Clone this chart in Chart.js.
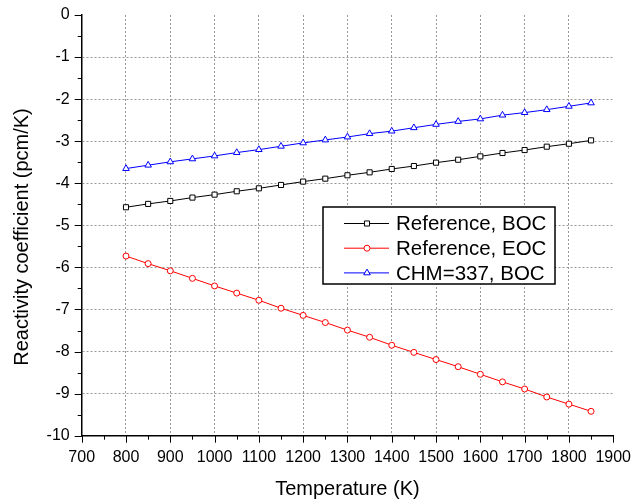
<!DOCTYPE html>
<html>
<head>
<meta charset="utf-8">
<script src="https://cdn.jsdelivr.net/npm/chart.js@4"></script>
<style>
  html, body { margin: 0; padding: 0; background: #fff; }
  #wrap { width: 631px; height: 502px; }
</style>
</head>
<body>
<div id="wrap"><canvas id="myChart" width="631" height="502"></canvas></div>
<script>
// datos
const temps = [800, 850, 900, 950, 1000, 1050, 1100, 1150, 1200, 1250, 1300,
               1350, 1400, 1450, 1500, 1550, 1600, 1650, 1700, 1750, 1800, 1850];
const refBOC = [-4.57, -4.49, -4.42, -4.34, -4.27, -4.19, -4.12, -4.04, -3.96, -3.89, -3.81,
                -3.74, -3.66, -3.59, -3.51, -3.44, -3.36, -3.28, -3.21, -3.13, -3.06, -2.98];
const refEOC = [-5.73, -5.91, -6.08, -6.26, -6.44, -6.61, -6.78, -6.97, -7.14, -7.31, -7.49,
                -7.66, -7.85, -8.02, -8.19, -8.36, -8.54, -8.72, -8.89, -9.08, -9.25, -9.42];
const chm337 = [-3.65, -3.57, -3.49, -3.42, -3.35, -3.27, -3.20, -3.12, -3.04, -2.97, -2.90,
                -2.82, -2.76, -2.68, -2.60, -2.53, -2.47, -2.38, -2.32, -2.25, -2.17, -2.09];
const seriesNames = ['Reference, BOC', 'Reference, EOC', 'CHM=337, BOC'];
const xTicks = [700, 1900, 100];   // min, max, paso
const yTicks = [-10, 0, 1];
const xTitle = 'Temperature (K)';
const yTitle = 'Reactivity coefficient (pcm/K)';

const FONT = '"Liberation Sans", Arial, sans-serif';

function pts(ys) {
    return temps.map((t, i) => ({ x: t, y: ys[i] }));
}

function marker(ctx, style, x, y, r, color) {
    ctx.save();
    ctx.fillStyle = '#fff';
    ctx.strokeStyle = color;
    ctx.lineWidth = 1;
    ctx.beginPath();
    if (style === 'rect') {
        const s = r * Math.SQRT1_2;
        ctx.rect(x - s, y - s, 2 * s, 2 * s);
    } else if (style === 'triangle') {
        for (let k = 0; k < 3; k++) {
            const a = k * 2 * Math.PI / 3;
            const px = x + Math.sin(a) * r, py = y - Math.cos(a) * r;
            k ? ctx.lineTo(px, py) : ctx.moveTo(px, py);
        }
        ctx.closePath();
    } else {
        ctx.arc(x, y, r, 0, 2 * Math.PI);
    }
    ctx.fill();
    ctx.stroke();
    ctx.restore();
}

// ticks menores/mayores, titulos y leyenda dibujados a mano
const extras = {
    id: 'extras',
    afterDraw(chart) {
        const ctx = chart.ctx;
        const xs = chart.scales.x, ys = chart.scales.y;
        const area = chart.chartArea;
        ctx.save();
        ctx.strokeStyle = '#000';
        ctx.lineWidth = 1;
        ctx.beginPath();
        for (let v = xTicks[0]; v <= xTicks[1]; v += xTicks[2] / 2) {
            const px = Math.round(xs.getPixelForValue(v)) + 0.5;
            const len = (v % xTicks[2] === 0) ? 7 : 4;
            ctx.moveTo(px, area.bottom);
            ctx.lineTo(px, area.bottom + len);
        }
        for (let v = yTicks[0]; v <= yTicks[1]; v += yTicks[2] / 2) {
            const py = Math.round(ys.getPixelForValue(v)) + 0.5;
            const len = (Math.abs(v % 1) < 1e-9) ? 7 : 4;
            ctx.moveTo(area.left, py);
            ctx.lineTo(area.left - len, py);
        }
        ctx.stroke();

        // titulos de ejes
        ctx.fillStyle = '#000';
        ctx.font = '20px ' + FONT;
        ctx.textAlign = 'center';
        ctx.textBaseline = 'middle';
        ctx.fillText(xTitle, (area.left + area.right) / 2, 489);
        ctx.translate(22, 237);
        ctx.rotate(-Math.PI / 2);
        ctx.fillText(yTitle, 0, 0);
        ctx.restore();

        // leyenda
        ctx.save();
        ctx.fillStyle = '#fff';
        ctx.fillRect(323, 207, 232, 77);
        ctx.strokeStyle = '#000';
        ctx.lineWidth = 1.5;
        ctx.strokeRect(323, 207, 232, 77);
        ctx.font = '20.5px ' + FONT;
        ctx.textAlign = 'left';
        ctx.textBaseline = 'middle';
        chart.data.datasets.forEach((ds, i) => {
            const y = 223.5 + i * 24.7;
            ctx.strokeStyle = ds.borderColor;
            ctx.lineWidth = 1;
            ctx.beginPath();
            ctx.moveTo(344, y);
            ctx.lineTo(389, y);
            ctx.stroke();
            marker(ctx, ds.pointStyle, 367, y, ds.pointRadius, ds.borderColor);
            ctx.fillStyle = '#000';
            ctx.fillText(ds.label, 396, y + 1);
        });
        ctx.restore();
    }
};

const ctx = document.getElementById('myChart');

const myChart = new Chart(ctx, {
    type: 'line',
    data: {
        datasets: [
            {
                label: seriesNames[0],
                data: pts(refBOC),
                borderColor: '#000000',
                pointStyle: 'rect',
                pointRadius: 3.6
            },
            {
                label: seriesNames[1],
                data: pts(refEOC),
                borderColor: '#ff0000',
                pointStyle: 'circle',
                pointRadius: 3
            },
            {
                label: seriesNames[2],
                data: pts(chm337),
                borderColor: '#0000ff',
                pointStyle: 'triangle',
                pointRadius: 3.8
            }
        ].map(d => Object.assign(d, {
            backgroundColor: '#ffffff',
            pointBackgroundColor: '#ffffff',
            pointBorderColor: d.borderColor,
            pointBorderWidth: 1,
            borderWidth: 1,
            tension: 0,
            fill: false
        }))
    },
    options: {
        responsive: false,
        animation: false,
        events: [],
        layout: { padding: { left: 0, right: 17.8, top: 15, bottom: 0 } },
        plugins: {
            legend: { display: false },
            tooltip: { enabled: false }
        },
        scales: {
            x: {
                type: 'linear',
                min: xTicks[0],
                max: xTicks[1],
                afterFit: s => { s.height = 66.3; s.paddingLeft = 0; s.paddingRight = 0; },
                ticks: {
                    stepSize: xTicks[2],
                    padding: 12,
                    color: '#000',
                    maxRotation: 0,
                    callback: v => String(v),
                    font: { family: FONT, size: 16 }
                },
                grid: {
                    drawTicks: false,
                    color: c => (c.tick && (c.tick.value === xTicks[0] || c.tick.value === xTicks[1])) ? 'rgba(0,0,0,0)' : '#999999',
                    lineWidth: 1
                },
                border: { color: '#000', width: 1.5, dash: [2, 2] }
            },
            y: {
                min: yTicks[0],
                max: yTicks[1],
                afterFit: s => { s.width = 81.7; s.paddingTop = 0; s.paddingBottom = 0; },
                ticks: {
                    stepSize: yTicks[2],
                    padding: 12,
                    color: '#000',
                    callback: v => String(v),
                    font: { family: FONT, size: 16 }
                },
                grid: {
                    drawTicks: false,
                    color: c => (c.tick && (c.tick.value === yTicks[0] || c.tick.value === yTicks[1])) ? 'rgba(0,0,0,0)' : '#999999',
                    lineWidth: 1
                },
                border: { color: '#000', width: 1.5, dash: [2, 2] }
            }
        }
    },
    plugins: [extras]
});
</script>
</body>
</html>
